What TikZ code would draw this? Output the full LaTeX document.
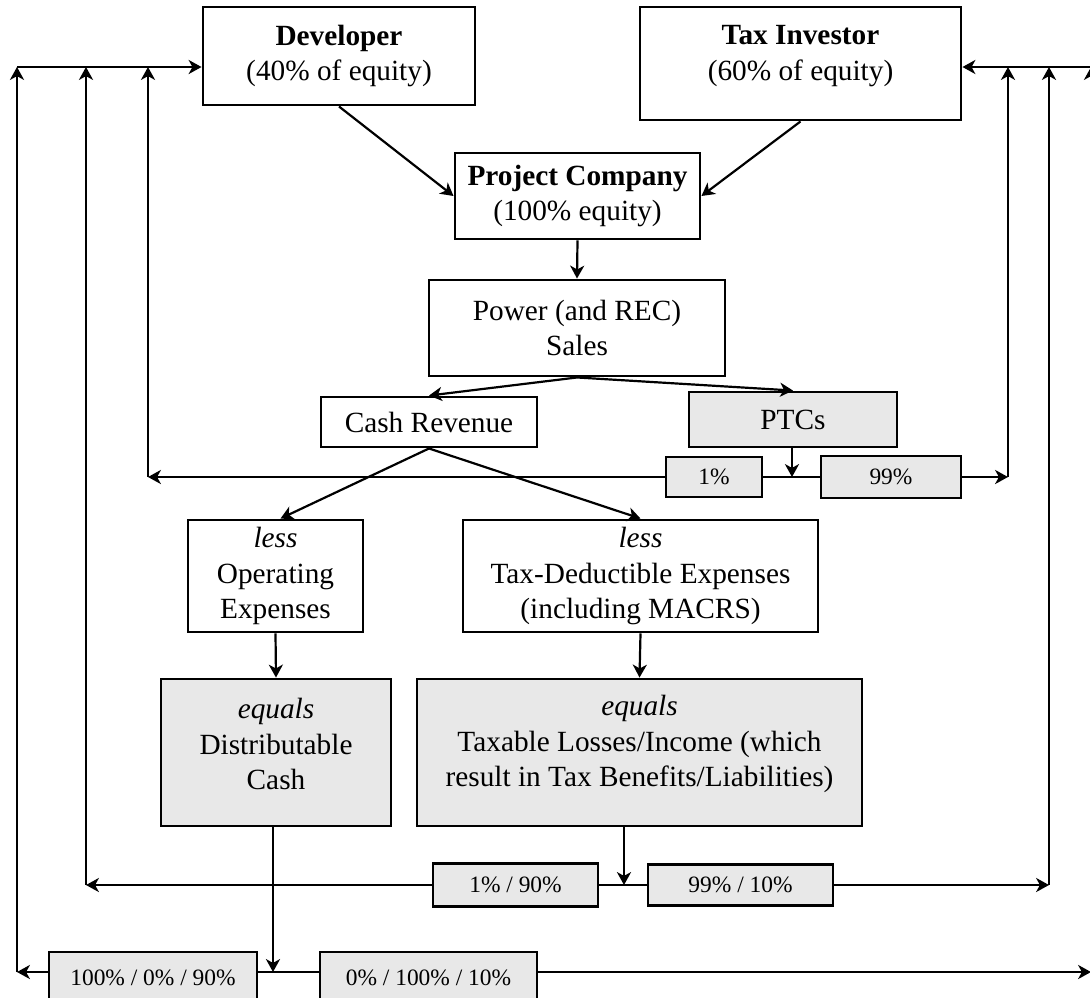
\documentclass[tikz,border=0pt]{standalone}
\usepackage{fontspec}
\setmainfont{Liberation Serif}
\usetikzlibrary{arrows.meta,calc}
\definecolor{boxgray}{RGB}{232,232,232}
\begin{document}
\begin{tikzpicture}[
  x=0.3413pt, y=-0.3413pt,
  sz/.style 2 args={minimum width=#1*0.3413pt, minimum height=#2*0.3413pt},
  box/.style={draw, line width=1pt, rectangle, inner sep=0pt, align=center,
    font=\fontsize{10}{12}\selectfont},
  graybox/.style={box, fill=boxgray},
  tag/.style={draw, line width=0.9pt, rectangle, fill=boxgray, inner sep=0pt,
    font=\fontsize{8}{9.6}\selectfont},
  txt/.style={align=center, inner sep=0pt, font=\fontsize{10}{12}\selectfont},
  flow/.style={line width=0.75pt, -{Stealth[length=4.4pt, width=4.8pt, inset=1.3pt]}},
  link/.style={line width=0.75pt}
]
\useasboundingbox (0,0) rectangle (1090,997);
\clip (0,0) rectangle (1090,997);

% owners
\node[box, sz={272}{98}] (dev) at (339,56) {\textbf{Developer}\\(40\% of equity)};
\node[box, sz={321}{113}] (ti) at (800.5,63.5) {};
\node[txt] (titxt) at (800.5,56) {\textbf{Tax Investor}\\(60\% of equity)};

% project company and revenues
\node[box, sz={245}{86}] (pc) at (577.5,196) {\textbf{Project Company}\\(100\% equity)};
\node[box, sz={296}{96}] (power) at (577,328) {Power (and REC)\\Sales};
\node[box, sz={216}{50}] (cash) at (429,422) {Cash Revenue};
\node[graybox, sz={208}{55}] (ptc) at (793,419.5) {PTCs};

% PTC split
\node[tag, sz={96}{40}] (p1) at (714,477) {\raisebox{-1.5pt}{1\%}};
\node[tag, sz={140}{42}] (p99) at (891,477) {\raisebox{-1pt}{99\%}};

% deductions
\node[box, sz={175}{112}] (opex) at (275.5,576) {\textit{less}\\Operating\\Expenses};
\node[box, sz={355}{112}] (taxded) at (640.5,576) {\textit{less}\\Tax-Deductible Expenses\\(including MACRS)};

% results
\node[graybox, sz={230}{147}] (dist) at (276,752.5) {};
\node[txt] (disttxt) at (276,744) {\textit{equals}\\Distributable\\Cash};
\node[graybox, sz={445}{147}] (taxable) at (639.5,752.5) {};
\node[txt] (taxabletxt) at (639.5,744) {\textit{equals}\\Taxable Losses/Income (which\\result in Tax Benefits/Liabilities)};

% tax splits
\node[tag, sz={165}{43}] (r1) at (515.5,885) {\raisebox{-1pt}{1\% / 90\%}};
\node[tag, sz={185}{41}] (r2) at (740.5,885) {\raisebox{-1pt}{99\% / 10\%}};

% cash splits
\node[tag, sz={208}{52}] (b1) at (153,978) {100\% / 0\% / 90\%};
\node[tag, sz={217}{52}] (b2) at (428.5,978) {0\% / 100\% / 10\%};

% routing points
\coordinate (tl) at (17,67);
\coordinate (tr) at (1091,67);
\coordinate (bl) at (17,972);
\coordinate (br) at (1091,972);
\coordinate (ml) at (148,477);
\coordinate (mr) at (1008,477);
\coordinate (ml2) at (86,885);
\coordinate (mr2) at (1049,885);
\coordinate (pj) at (792,477);
\coordinate (tj) at (624,885);
\coordinate (bj) at (273,972);

% equity flows
\draw[flow] (dev.south) -- (pc.west);
\draw[flow] (ti.south) -- (pc.east);
\draw[flow] (pc.south) -- (power.north);
\draw[flow] (power.south) -- (cash.north);
\draw[flow] (power.south) -- (ptc.north);
\draw[flow] (cash.south) -- ($(opex.north)+(5,0)$);
\draw[flow] (cash.south) -- (taxded.north);
\draw[flow] (opex.south) -- (dist.north);
\draw[flow] (taxded.south) -- (taxable.north);

% top return lines
\draw[flow] (tl) -- (tl -| dev.west);
\draw[flow] (tr) -- (tr -| ti.east);
\draw[flow] (bl) -- (tl);
\draw[flow] (ml2) -- (ml2 |- tl);
\draw[flow] (ml) -- (ml |- tl);
\draw[flow] (br) -- (tr);
\draw[flow] (mr2) -- (mr2 |- tr);
\draw[flow] (mr) -- (mr |- tr);

% PTC allocation
\draw[flow] (ptc.south -| pj) -- (pj);
\draw[link] (p1.east) -- (p99.west);
\draw[flow] (p1.west) -- (ml);
\draw[flow] (p99.east) -- (mr);

% tax allocation
\draw[flow] (tj |- taxable.south) -- (tj);
\draw[link] (r1.east) -- (r2.west);
\draw[flow] (r1.west) -- (ml2);
\draw[flow] (r2.east) -- (mr2);

% cash allocation
\draw[flow] (bj |- dist.south) -- (bj);
\draw[link] (b1.east |- bj) -- (b2.west |- bj);
\draw[flow] (b1.west |- bj) -- (bl);
\draw[flow] (b2.east |- bj) -- (br);
\end{tikzpicture}
\end{document}
